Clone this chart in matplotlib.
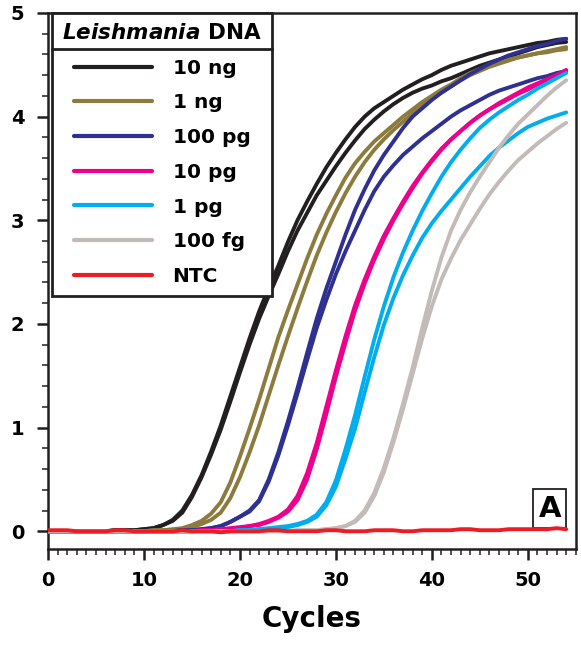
import matplotlib
matplotlib.use("Agg")
import matplotlib.pyplot as plt
from matplotlib.lines import Line2D
from matplotlib.ticker import MultipleLocator

plt.rcParams['font.family'] = ['DejaVu Sans']
plt.rcParams['font.weight'] = 'bold'
plt.rcParams['mathtext.fontset'] = 'custom'
plt.rcParams['mathtext.it'] = 'DejaVu Sans:italic:bold'

# cycle numbers
cycles = list(range(0, 55))

# fluorescence, two replicates per dilution
ng10_a = [0, 0, 0, 0, 0, 0, 0, 0.01, 0.01, 0.01, 0.02, 0.03, 0.06, 0.11, 0.20, 0.35,
          0.54, 0.77, 1.02, 1.30, 1.58, 1.86, 2.12, 2.35, 2.56, 2.79, 3.00, 3.18, 3.35,
          3.51, 3.65, 3.78, 3.90, 4.00, 4.08, 4.14, 4.20, 4.26, 4.31, 4.36, 4.40, 4.45,
          4.49, 4.52, 4.55, 4.58, 4.61, 4.63, 4.65, 4.67, 4.69, 4.71, 4.72, 4.74, 4.75]
ng10_b = [0, 0, 0, 0, 0, 0, 0, 0.01, 0.01, 0.01, 0.02, 0.03, 0.06, 0.10, 0.18, 0.33,
          0.52, 0.74, 0.98, 1.25, 1.53, 1.80, 2.05, 2.27, 2.48, 2.70, 2.90, 3.07, 3.24,
          3.38, 3.52, 3.65, 3.77, 3.88, 3.97, 4.05, 4.12, 4.18, 4.23, 4.27, 4.30, 4.34,
          4.37, 4.41, 4.45, 4.49, 4.52, 4.55, 4.58, 4.61, 4.64, 4.67, 4.69, 4.71, 4.72]
ng1_a = [0, 0, 0, 0, 0, 0, 0, 0, 0, 0, 0, 0.01, 0.01, 0.02, 0.03, 0.06,
         0.10, 0.17, 0.28, 0.47, 0.72, 0.99, 1.27, 1.57, 1.87, 2.13, 2.38, 2.63, 2.86,
         3.06, 3.24, 3.41, 3.55, 3.66, 3.76, 3.84, 3.92, 4.00, 4.07, 4.14, 4.20, 4.26,
         4.31, 4.37, 4.42, 4.46, 4.49, 4.52, 4.55, 4.57, 4.59, 4.61, 4.62, 4.64, 4.65]
ng1_b = [0, 0, 0, 0, 0, 0, 0, 0, 0, 0, 0, 0.01, 0.01, 0.01, 0.02, 0.04,
         0.07, 0.11, 0.18, 0.32, 0.52, 0.76, 1.02, 1.31, 1.60, 1.88, 2.15, 2.41, 2.66,
         2.88, 3.08, 3.26, 3.42, 3.56, 3.68, 3.78, 3.87, 3.95, 4.03, 4.10, 4.17, 4.23,
         4.29, 4.35, 4.40, 4.44, 4.48, 4.51, 4.54, 4.57, 4.59, 4.61, 4.63, 4.65, 4.67]
pg100_a = [0, 0, 0, 0, 0, 0, 0, 0, 0, 0, 0, 0, 0, 0, 0.01, 0.01,
           0.02, 0.03, 0.05, 0.09, 0.14, 0.20, 0.30, 0.50, 0.76, 1.06, 1.38, 1.72, 2.05,
           2.34, 2.60, 2.86, 3.10, 3.30, 3.48, 3.63, 3.76, 3.89, 4.00, 4.08, 4.16, 4.23,
           4.29, 4.35, 4.41, 4.46, 4.51, 4.55, 4.59, 4.62, 4.65, 4.68, 4.70, 4.73, 4.75]
pg100_b = [0, 0, 0, 0, 0, 0, 0, 0, 0, 0, 0, 0, 0, 0, 0.01, 0.01,
           0.02, 0.03, 0.05, 0.09, 0.14, 0.19, 0.29, 0.48, 0.73, 1.02, 1.33, 1.65, 1.96,
           2.23, 2.48, 2.70, 2.90, 3.10, 3.28, 3.42, 3.53, 3.63, 3.71, 3.79, 3.86, 3.93,
           4.00, 4.06, 4.11, 4.16, 4.21, 4.25, 4.28, 4.31, 4.34, 4.37, 4.39, 4.42, 4.44]
pg10_a = [0, 0, 0, 0, 0, 0, 0, 0, 0, 0, 0, 0, 0, 0, 0, 0,
          0.01, 0.01, 0.02, 0.03, 0.04, 0.05, 0.07, 0.10, 0.14, 0.21, 0.34, 0.56, 0.85,
          1.20, 1.55, 1.88, 2.18, 2.43, 2.65, 2.85, 3.02, 3.18, 3.33, 3.46, 3.58, 3.69,
          3.78, 3.86, 3.94, 4.01, 4.07, 4.12, 4.17, 4.22, 4.26, 4.31, 4.35, 4.40, 4.44]
pg10_b = [0, 0, 0, 0, 0, 0, 0, 0, 0, 0, 0, 0, 0, 0, 0, 0,
          0.01, 0.01, 0.02, 0.02, 0.03, 0.05, 0.06, 0.09, 0.13, 0.19, 0.30, 0.50, 0.79,
          1.13, 1.49, 1.82, 2.13, 2.39, 2.62, 2.82, 3.00, 3.16, 3.31, 3.45, 3.57, 3.68,
          3.78, 3.86, 3.94, 4.01, 4.07, 4.13, 4.18, 4.23, 4.28, 4.32, 4.36, 4.40, 4.45]
pg1_a = [0, 0, 0, 0, 0, 0, 0, 0, 0, 0, 0, 0, 0, 0, 0, 0,
         0, 0, 0, 0, 0.01, 0.01, 0.02, 0.03, 0.04, 0.05, 0.07, 0.10, 0.16,
         0.28, 0.49, 0.79, 1.12, 1.49, 1.85, 2.17, 2.45, 2.69, 2.90, 3.09, 3.26, 3.42,
         3.56, 3.68, 3.79, 3.89, 3.97, 4.04, 4.10, 4.16, 4.21, 4.27, 4.32, 4.37, 4.42]
pg1_b = [0, 0, 0, 0, 0, 0, 0, 0, 0, 0, 0, 0, 0, 0, 0, 0,
         0, 0, 0, 0, 0.01, 0.01, 0.02, 0.02, 0.03, 0.04, 0.06, 0.09, 0.14,
         0.25, 0.43, 0.70, 0.99, 1.34, 1.68, 1.99, 2.25, 2.47, 2.66, 2.83, 2.97, 3.09,
         3.20, 3.31, 3.42, 3.52, 3.62, 3.70, 3.77, 3.84, 3.90, 3.94, 3.98, 4.01, 4.04]
fg100_a = [0, 0, 0, 0, 0, 0, 0, 0, 0, 0, 0, 0, 0, 0, 0, 0,
           0, 0, 0, 0, 0, 0, 0, 0, 0, 0, 0.01, 0.01, 0.01,
           0.02, 0.03, 0.05, 0.10, 0.20, 0.37, 0.61, 0.90, 1.23, 1.58, 1.96, 2.32, 2.64,
           2.90, 3.10, 3.27, 3.42, 3.56, 3.70, 3.82, 3.93, 4.02, 4.11, 4.20, 4.28, 4.35]
fg100_b = [0, 0, 0, 0, 0, 0, 0, 0, 0, 0, 0, 0, 0, 0, 0, 0,
           0, 0, 0, 0, 0, 0, 0, 0, 0, 0, 0.01, 0.01, 0.01,
           0.02, 0.03, 0.05, 0.09, 0.18, 0.34, 0.57, 0.86, 1.18, 1.52, 1.86, 2.17, 2.43,
           2.63, 2.81, 2.96, 3.11, 3.25, 3.37, 3.48, 3.58, 3.66, 3.74, 3.81, 3.88, 3.94]
ntc = [0.01, 0.01, 0.01, 0.0, 0.0, 0.0, 0.0, 0.01, 0.01, 0.0, 0.0, 0.0, 0.0, 0.0, 0.01, 0.0,
       0.0, 0.0, -0.01, 0.0, 0.0, 0.0, 0.0, 0.01, 0.01, 0.0, 0.0, 0.0, 0.0,
       0.01, 0.01, 0.0, 0.0, 0.0, 0.01, 0.01, 0.01, 0.0, 0.0, 0.01, 0.01, 0.01,
       0.01, 0.02, 0.02, 0.01, 0.01, 0.01, 0.02, 0.02, 0.02, 0.02, 0.02, 0.03, 0.02]

labels = ["10 ng", "1 ng", "100 pg", "10 pg", "1 pg", "100 fg", "NTC"]
colors = ["#231f20", "#8c7b3c", "#2e3192", "#ec008c", "#00aeef", "#c2bbb7", "#ed1c24"]
series = [(ng10_a, ng10_b), (ng1_a, ng1_b), (pg100_a, pg100_b), (pg10_a, pg10_b),
          (pg1_a, pg1_b), (fg100_a, fg100_b), (ntc,)]

fig = plt.figure(figsize=(5.81, 6.45), dpi=100)
ax = fig.add_axes([0.0826, 0.149, 0.9084, 0.831])

for reps, lab, col in zip(series, labels, colors):
    for i, y in enumerate(reps):
        ax.plot(cycles, y, color=col, lw=2.8, solid_capstyle='round',
                label=lab if i == 0 else None, zorder=3 if lab != "NTC" else 4)

ax.set_xlim(0, 55)
ax.set_ylim(-0.17, 5.0)
ax.xaxis.set_major_locator(MultipleLocator(10))
ax.xaxis.set_minor_locator(MultipleLocator(1))
ax.yaxis.set_major_locator(MultipleLocator(1))
ax.yaxis.set_minor_locator(MultipleLocator(0.2))
ax.tick_params(which='major', length=8, width=1.8, labelsize=14, color='#231f20')
ax.tick_params(which='minor', length=4.5, width=1.1, color='#231f20')
ax.tick_params(axis='x', which='major', pad=8)
ax.tick_params(axis='y', which='major', pad=9)
for s in ax.spines.values():
    s.set_linewidth(1.8)
    s.set_color('#231f20')

ax.set_xlabel("Cycles", fontsize=20, fontweight='bold', labelpad=11)

ax.text(0.951, 0.075, "A", transform=ax.transAxes, fontsize=21, fontweight='bold',
        ha='center', va='center',
        bbox=dict(boxstyle='square,pad=0.18', fc='white', ec='#231f20', lw=1.3))

leg = ax.legend(loc='upper left', bbox_to_anchor=(0.008, 1.0), borderaxespad=0,
                title=r"$\mathit{Leishmania}$ DNA",
                title_fontproperties={'weight': 'bold', 'size': 15.5},
                prop={'weight': 'bold', 'size': 14.5}, handlelength=3.9,
                handletextpad=1.0, labelspacing=0.78, borderpad=0.5,
                fancybox=False, framealpha=1, edgecolor='#231f20')
leg.get_frame().set_linewidth(2.0)
for h in leg.get_lines():
    h.set_linewidth(3.0)

# line under the legend title
fig.canvas.draw()
r = fig.canvas.get_renderer()
fb = leg.get_frame().get_window_extent(r)
tb = leg.get_title().get_window_extent(r)
yline = tb.y0 - 6
inv = fig.transFigure.inverted()
x0, y0 = inv.transform((fb.x0, yline))
x1, _ = inv.transform((fb.x1, yline))
fig.add_artist(Line2D([x0, x1], [y0, y0], transform=fig.transFigure,
                      color='#231f20', lw=2.0, zorder=10))

fig.savefig("out.png", dpi=100)
